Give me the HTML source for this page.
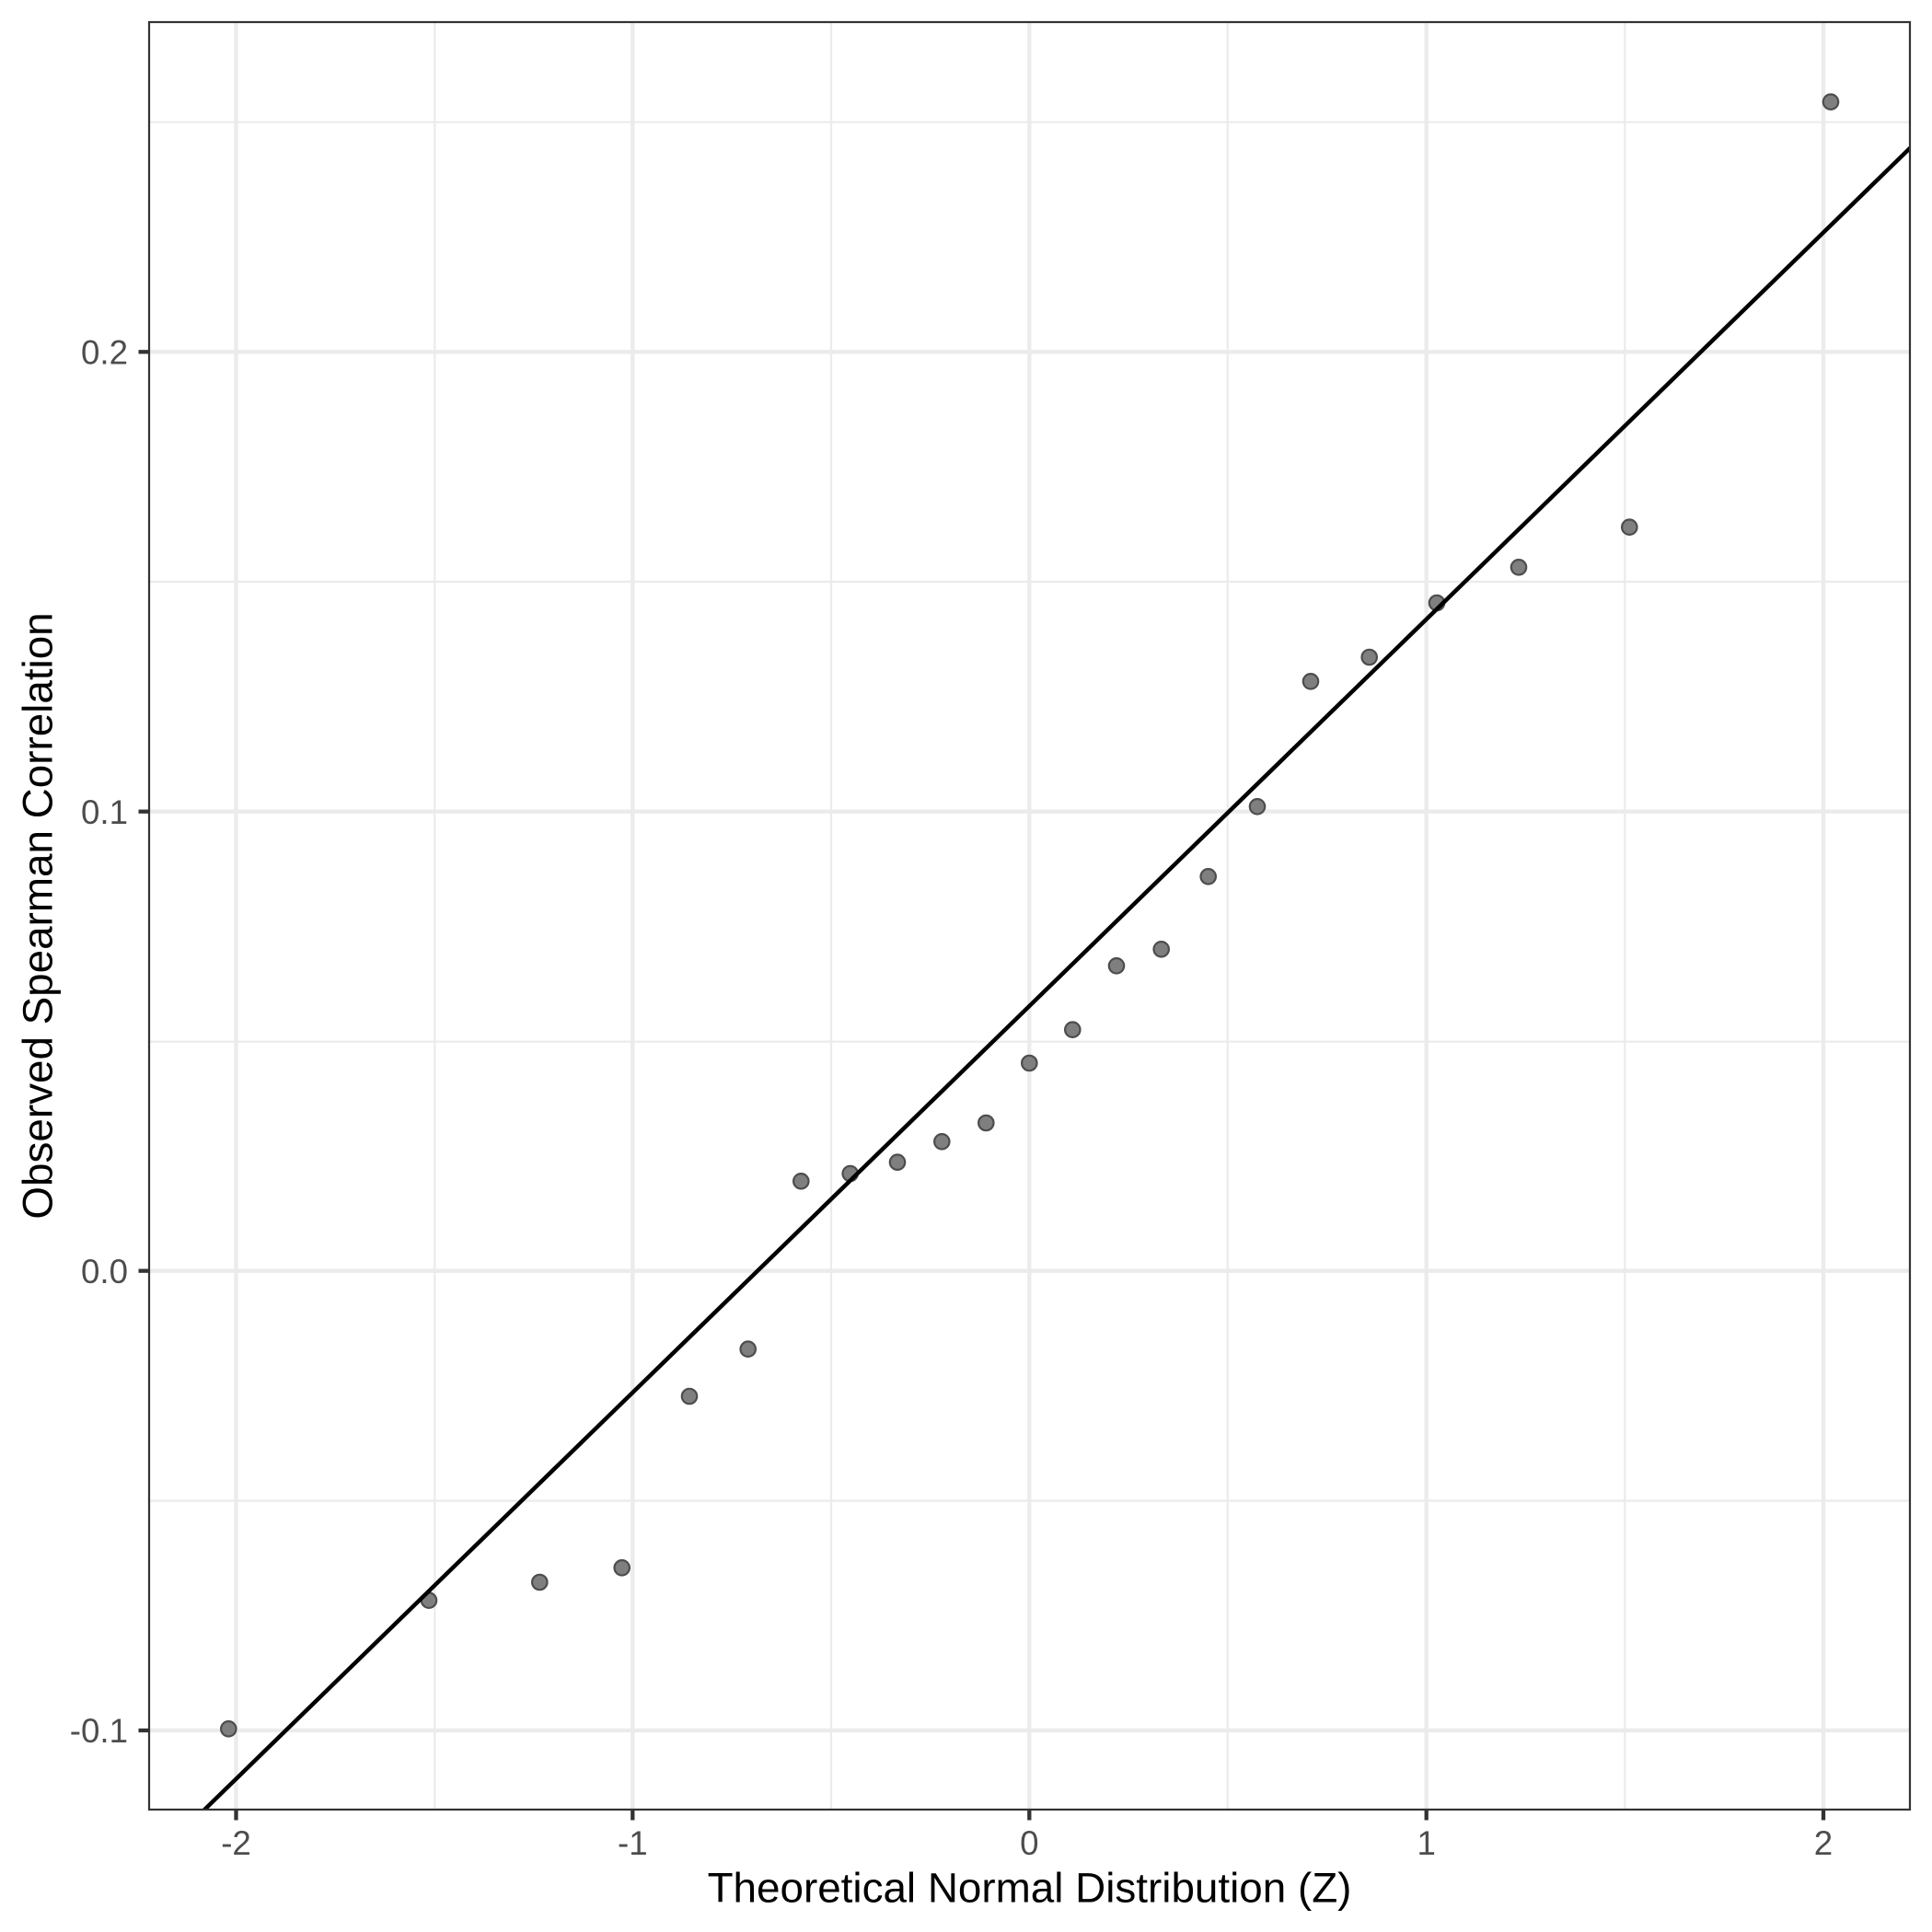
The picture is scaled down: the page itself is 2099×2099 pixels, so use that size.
<!DOCTYPE html>
<html>
<head>
<meta charset="utf-8">
<style>
html,body{margin:0;padding:0;background:#fff;}
svg{display:block;}
text{font-family:"Liberation Sans", Arial, sans-serif;}
</style>
</head>
<body>
<svg width="2099" height="2099" viewBox="0 0 2099 2099" xmlns="http://www.w3.org/2000/svg">
<defs>
<clipPath id="panel"><rect x="162" y="24" width="1913" height="1942"/></clipPath>
</defs>
<rect x="0" y="0" width="2099" height="2099" fill="#ffffff"/>
<g clip-path="url(#panel)">
  <!-- minor grid -->
  <g stroke="#EBEBEB" stroke-width="2.2" fill="none">
    <line x1="472.3" y1="24" x2="472.3" y2="1966"/>
    <line x1="903" y1="24" x2="903" y2="1966"/>
    <line x1="1333.7" y1="24" x2="1333.7" y2="1966"/>
    <line x1="1765.3" y1="24" x2="1765.3" y2="1966"/>
    <line x1="162" y1="132.7" x2="2075" y2="132.7"/>
    <line x1="162" y1="632" x2="2075" y2="632"/>
    <line x1="162" y1="1131.7" x2="2075" y2="1131.7"/>
    <line x1="162" y1="1630.5" x2="2075" y2="1630.5"/>
  </g>
  <!-- major grid -->
  <g stroke="#EBEBEB" stroke-width="4.3" fill="none">
    <line x1="256.5" y1="24" x2="256.5" y2="1966"/>
    <line x1="687.3" y1="24" x2="687.3" y2="1966"/>
    <line x1="1118.3" y1="24" x2="1118.3" y2="1966"/>
    <line x1="1549.7" y1="24" x2="1549.7" y2="1966"/>
    <line x1="1981" y1="24" x2="1981" y2="1966"/>
    <line x1="162" y1="382.3" x2="2075" y2="382.3"/>
    <line x1="162" y1="881.7" x2="2075" y2="881.7"/>
    <line x1="162" y1="1380.7" x2="2075" y2="1380.7"/>
    <line x1="162" y1="1880" x2="2075" y2="1880"/>
  </g>
  <!-- points -->
  <g fill="#7f7f7f" stroke="#4d4d4d" stroke-width="2.2">
    <circle cx="248.3" cy="1878.3" r="8.2"/>
    <circle cx="466" cy="1738.7" r="8.2"/>
    <circle cx="586.3" cy="1719" r="8.2"/>
    <circle cx="675.7" cy="1703.3" r="8.2"/>
    <circle cx="749" cy="1517" r="8.2"/>
    <circle cx="812.7" cy="1465.7" r="8.2"/>
    <circle cx="870.3" cy="1283.3" r="8.2"/>
    <circle cx="923.7" cy="1275" r="8.2"/>
    <circle cx="975" cy="1262.7" r="8.2"/>
    <circle cx="1023.3" cy="1240.3" r="8.2"/>
    <circle cx="1071.3" cy="1220" r="8.2"/>
    <circle cx="1118.3" cy="1155" r="8.2"/>
    <circle cx="1165.3" cy="1118.7" r="8.2"/>
    <circle cx="1213" cy="1049.3" r="8.2"/>
    <circle cx="1261.7" cy="1031.3" r="8.2"/>
    <circle cx="1312.7" cy="952.3" r="8.2"/>
    <circle cx="1366" cy="876.3" r="8.2"/>
    <circle cx="1424" cy="740.3" r="8.2"/>
    <circle cx="1487.7" cy="714" r="8.2"/>
    <circle cx="1561" cy="655" r="8.2"/>
    <circle cx="1650" cy="616.3" r="8.2"/>
    <circle cx="1770.3" cy="572.7" r="8.2"/>
    <circle cx="1989" cy="110.7" r="8.2"/>
  </g>
  <!-- qq line -->
  <line x1="150" y1="2036.4" x2="2090" y2="146.4" stroke="#000000" stroke-width="4.5"/>
</g>
<!-- panel border -->
<rect x="162" y="24" width="1913" height="1942" fill="none" stroke="#333333" stroke-width="2.2"/>
<!-- ticks -->
<g stroke="#333333" stroke-width="4.3">
  <line x1="256.5" y1="1966" x2="256.5" y2="1977.5"/>
  <line x1="687.3" y1="1966" x2="687.3" y2="1977.5"/>
  <line x1="1118.3" y1="1966" x2="1118.3" y2="1977.5"/>
  <line x1="1549.7" y1="1966" x2="1549.7" y2="1977.5"/>
  <line x1="1981" y1="1966" x2="1981" y2="1977.5"/>
  <line x1="150.5" y1="382.3" x2="162" y2="382.3"/>
  <line x1="150.5" y1="881.7" x2="162" y2="881.7"/>
  <line x1="150.5" y1="1380.7" x2="162" y2="1380.7"/>
  <line x1="150.5" y1="1880" x2="162" y2="1880"/>
</g>
<!-- tick labels -->
<g fill="#4D4D4D" font-size="36.7">
  <text x="256.5" y="2015" text-anchor="middle">-2</text>
  <text x="687.3" y="2015" text-anchor="middle">-1</text>
  <text x="1118.3" y="2015" text-anchor="middle">0</text>
  <text x="1549.7" y="2015" text-anchor="middle">1</text>
  <text x="1981" y="2015" text-anchor="middle">2</text>
  <text x="139" y="395.5" text-anchor="end">0.2</text>
  <text x="139" y="894.9" text-anchor="end">0.1</text>
  <text x="139" y="1393.9" text-anchor="end">0.0</text>
  <text x="139" y="1893.2" text-anchor="end">-0.1</text>
</g>
<!-- axis titles -->
<text x="1118.5" y="2066.5" text-anchor="middle" font-size="45.8" fill="#000000">Theoretical Normal Distribution (Z)</text>
<text transform="translate(56.5,995) rotate(-90)" x="0" y="0" text-anchor="middle" font-size="45.8" fill="#000000">Observed Spearman Correlation</text>
</svg>
</body>
</html>
